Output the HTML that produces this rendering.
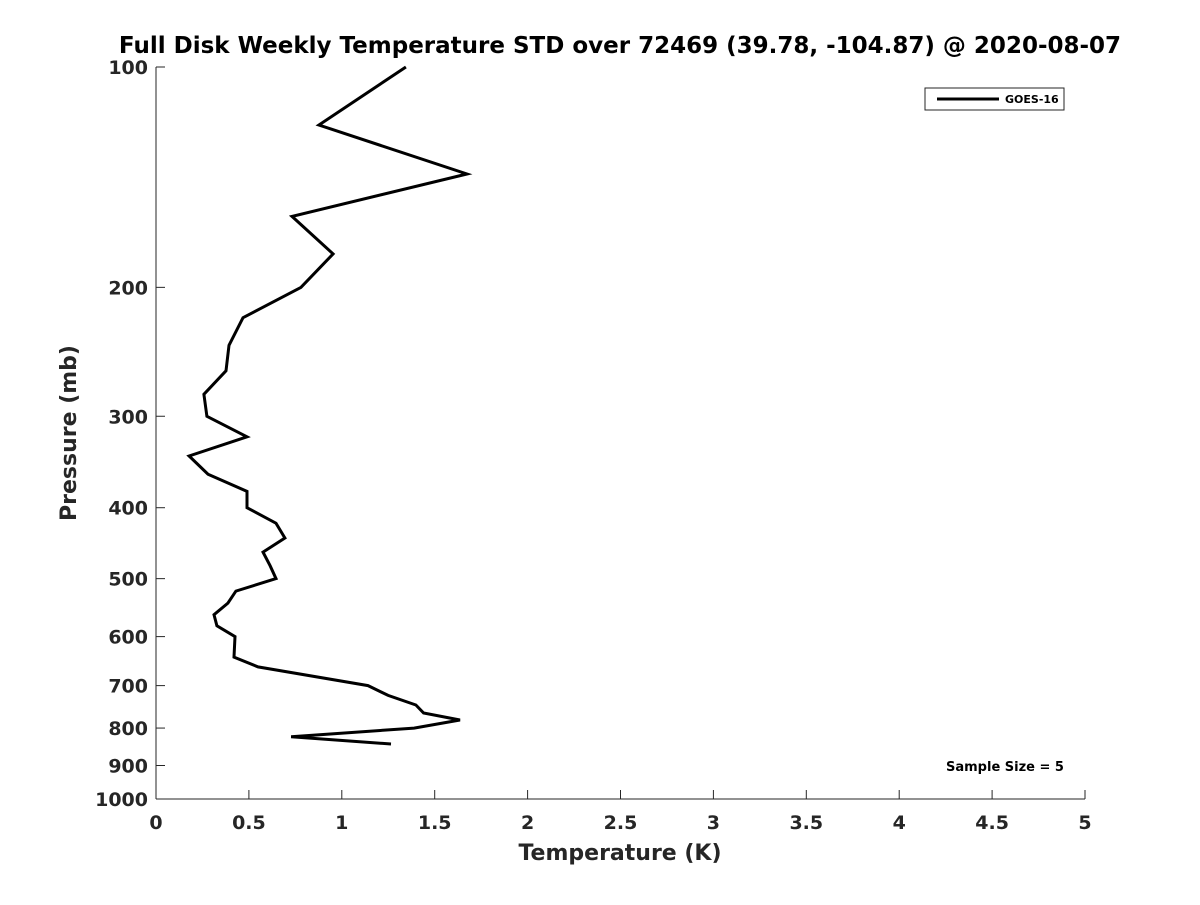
<!DOCTYPE html>
<html><head><meta charset="utf-8"><style>
body{margin:0;background:#fff;}
svg text{font-family:"DejaVu Sans","Liberation Sans",sans-serif;font-weight:bold;fill:#262626;}
</style></head><body>
<svg id="chart" width="1200" height="900" xmlns="http://www.w3.org/2000/svg">
<rect width="1200" height="900" fill="#fff"/>
<text x="620" y="53" text-anchor="middle" font-size="23" style="fill:#000">Full Disk Weekly Temperature STD over 72469 (39.78, -104.87) @ 2020-08-07</text>
<g id="axes"></g>
<path id="line" fill="none" stroke="#000" stroke-width="3" stroke-linejoin="miter"/>
<g>
<rect x="925" y="88" width="139" height="22" fill="#fff" stroke="#262626" stroke-width="1"/>
<line x1="937" y1="99" x2="999" y2="99" stroke="#000" stroke-width="3"/>
<text x="1005" y="103" font-size="11" style="fill:#000">GOES-16</text>
</g>
<text x="946" y="771" font-size="13" style="fill:#000">Sample Size = 5</text>
<text x="620" y="860" text-anchor="middle" font-size="22">Temperature (K)</text>
<text transform="translate(76,433) rotate(-90)" text-anchor="middle" font-size="22">Pressure (mb)</text>
</svg>
<script>
const temps=[1.345,0.877,1.674,0.732,0.953,0.78,0.468,0.393,0.377,0.258,0.274,0.49,0.178,0.28,0.49,0.49,0.646,0.694,0.576,0.614,0.646,0.43,0.387,0.312,0.328,0.425,0.42,0.549,1.141,1.249,1.399,1.44,1.636,1.389,0.727,1.265];
const pressures=[100,120,140,160,180,200,220,240,260,280,300,320,340,360,380,400,420,440,460,480,500,520,540,560,580,600,640,660,700,722,744,763,780,800,822,841];
const xTicks=[0,0.5,1,1.5,2,2.5,3,3.5,4,4.5,5];
const xTickLabels=["0","0.5","1","1.5","2","2.5","3","3.5","4","4.5","5"];
const yTicks=[100,200,300,400,500,600,700,800,900,1000];
const L=156,R=1085,T=67,B=799;
function xs(v){return L+(v-0)/(5-0)*(R-L);}
function ys(p){return T+(Math.log10(p)-2)/(3-2)*(B-T);}
const ns="http://www.w3.org/2000/svg";
const ax=document.getElementById('axes');
function mk(tag,attrs){const e=document.createElementNS(ns,tag);for(const k in attrs)e.setAttribute(k,attrs[k]);ax.appendChild(e);return e;}
const xl=mk('line',{x1:L,y1:B,x2:R,y2:B,stroke:'#262626','stroke-width':1});


const yl=mk('line',{x1:L,y1:T,x2:L,y2:B,stroke:'#262626','stroke-width':1});


xTicks.forEach((v,i)=>{const x=xs(v);
 const t=mk('line',{x1:x,y1:B,x2:x,y2:B-9,stroke:'#262626'});
 
 
 const tx=mk('text',{x:x,y:B+30,'text-anchor':'middle','font-size':19});
 
 
 tx.textContent=xTickLabels[i];});
yTicks.forEach(p=>{const y=ys(p);
 const t=mk('line',{x1:L,y1:y,x2:L+9,y2:y,stroke:'#262626'});
 
 
 const tx=mk('text',{x:L-8,y:y+7,'text-anchor':'end','font-size':19});
 
 
 tx.textContent=String(p);});
document.getElementById('line').setAttribute('d',temps.map((t,i)=>(i?'L':'M')+xs(t).toFixed(1)+' '+ys(pressures[i]).toFixed(1)).join(' '));
</script>
</body></html>
